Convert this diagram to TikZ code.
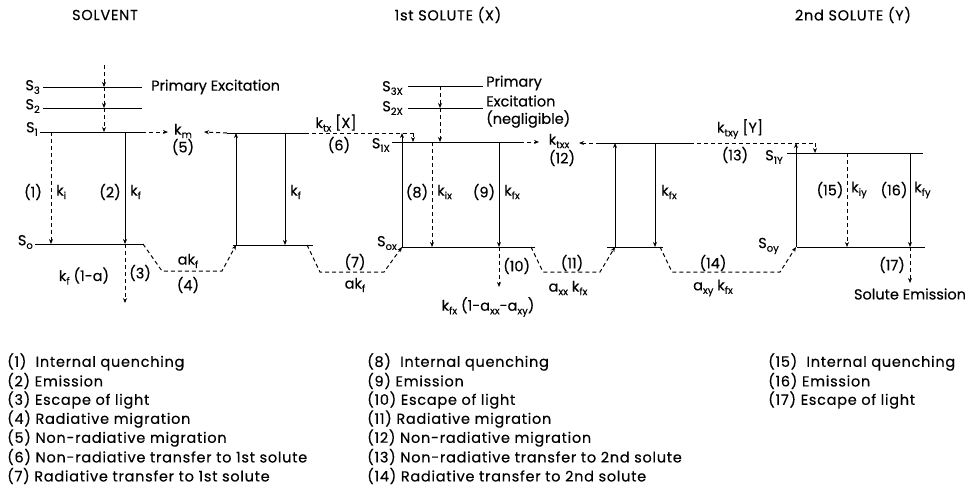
\documentclass[tikz,border=0pt]{standalone}
\usepackage{fontspec}
\setmainfont{Poppins}[UprightFeatures={FakeBold=0.35}]
\usetikzlibrary{arrows.meta}
\newcommand\lsub[1]{\raisebox{-0.45ex}{\fontsize{10}{10}\selectfont #1}}
\begin{document}
\begin{tikzpicture}[x=1pt,y=-1pt,
  lvl/.style={line width=1pt},
  sarr/.style={line width=1pt,-{Stealth[length=5pt,width=4pt]}},
  darr/.style={line width=1pt,dash pattern=on 4pt off 3pt,-{Stealth[length=5pt,width=4pt]}},
  dln/.style={line width=1pt,dash pattern=on 4pt off 3pt},
  txt/.style={font=\fontsize{14.5}{16}\selectfont,inner sep=0pt},
  hdr/.style={font=\fontsize{14.5}{16}\selectfont\addfontfeature{LetterSpace=5},inner sep=0pt},
  leg/.style={font=\fontsize{14.5}{16}\selectfont\addfontfeature{LetterSpace=5},inner sep=0pt,anchor=west}]
\useasboundingbox (0,0) rectangle (979,499);
% headers
\node[hdr] (h1) at (105,15) {SOLVENT};
\node[hdr] (h2) at (448,15) {1st SOLUTE (X)};
\node[hdr] (h3) at (853,15) {2nd SOLUTE (Y)};
% ---------- solvent 1 ----------
\coordinate (a3l) at (43,87);  \coordinate (a3r) at (142,87);
\coordinate (a2l) at (43,108); \coordinate (a2r) at (142,108);
\coordinate (a1l) at (40,132); \coordinate (a1r) at (142,132);
\coordinate (a0l) at (35,244); \coordinate (a0r) at (143,244);
\draw[lvl] (a3l)--(a3r); \draw[lvl] (a2l)--(a2r); \draw[lvl] (a1l)--(a1r); \draw[lvl] (a0l)--(a0r);
\node[txt,anchor=east] (ls3) at (40,87) {S\lsub{3}};
\node[txt,anchor=east] (ls2) at (40,106) {S\lsub{2}};
\node[txt,anchor=east] (ls1) at (38,129) {S\lsub{1}};
\node[txt,anchor=east] (ls0) at (33,242) {S\lsub{o}};
\coordinate (pe0) at (104,65); \coordinate (pe3) at (104,87); \coordinate (pe2) at (104,108); \coordinate (pe1) at (104,132);
\draw[darr] (pe0)--(pe3); \draw[darr] (pe3)--(pe2); \draw[darr] (pe2)--(pe1);
\node[txt,anchor=west] (pe) at (151,87) {Primary Excitation};
\coordinate (q1t) at (51,132); \coordinate (q1b) at (51,244);
\draw[darr] (q1t)--(q1b);
\node[txt] (n1) at (33,192) {(1)};
\node[txt,anchor=west] (k1) at (56,192) {k\lsub{i}};
\coordinate (e2t) at (125,132); \coordinate (e2b) at (125,244); \coordinate (e3b) at (125,303);
\draw[sarr] (e2t)--(e2b);
\node[txt] (n2) at (110,192) {(2)};
\node[txt,anchor=west] (k2) at (130,192) {k\lsub{f}};
\draw[darr] (e2b)--(e3b);
\node[txt,anchor=west] (n3) at (129,273) {(3)};
\node[txt] (k3) at (84,276) {k\lsub{f} (1-a)};
% non-radiative migration (5)
\coordinate (m5a) at (168,132); \coordinate (m5b) at (204,132); \coordinate (b1l) at (227,133);
\draw[darr] (a1r)--(m5a);
\node[txt] (km) at (183,131) {k\lsub{m}};
\node[txt] (n5) at (183,147) {(5)};
\draw[darr] (b1l)--(m5b);
% radiative migration (4)
\coordinate (r4a) at (162,271); \coordinate (r4b) at (222,271); \coordinate (b0l) at (236,245);
\draw[darr] (a0r)--(r4a)--(r4b)--(b0l);
\node[txt] (ak4) at (188,261) {ak\lsub{f}};
\node[txt] (n4) at (188,285) {(4)};
% ---------- solvent 2 ----------
\coordinate (b1m) at (305,133); \coordinate (b1r) at (413,133);
\coordinate (b0a) at (233,245); \coordinate (b0r) at (313,245);
\draw[lvl] (b1l)--(b1m); \draw[dln] (b1m)--(b1r);
\draw[lvl] (b0a)--(b0r);
\coordinate (bu1) at (236,245); \coordinate (bu2) at (236,133);
\draw[sarr] (bu1)--(bu2);
\coordinate (bd1) at (285,133); \coordinate (bd2) at (285,245);
\draw[sarr] (bd1)--(bd2);
\node[txt,anchor=west] (kb) at (290,192) {k\lsub{f}};
% (7)
\coordinate (r7s) at (307,245); \coordinate (r7a) at (320,272); \coordinate (r7b) at (384,272); \coordinate (x0l) at (402,247);
\draw[darr] (r7s)--(r7a)--(r7b)--(x0l);
\node[txt] (n7) at (355,262) {(7)};
\node[txt] (ak7) at (355,285) {ak\lsub{f}};
\node[txt] (ktx) at (336,123) {k\lsub{tx} [X]};
\node[txt] (n6) at (339,145) {(6)};
% ---------- solute X ----------
\coordinate (xu2) at (402,133);
\draw[sarr] (x0l)--(xu2);
\coordinate (x1b) at (413,142);
\draw[darr] (b1r)--(x1b);
\coordinate (x3l) at (408,86); \coordinate (x3r) at (483,86);
\coordinate (x2l) at (408,108); \coordinate (x2r) at (483,108);
\coordinate (x1l) at (392,142); \coordinate (x1m) at (520,142);
\coordinate (x0r) at (535,247);
\draw[lvl] (x3l)--(x3r); \draw[lvl] (x2l)--(x2r); \draw[lvl] (x1l)--(x1m); \draw[lvl] (x0l)--(x0r);
\node[txt,anchor=east] (lx3) at (403,88) {S\lsub{3X}};
\node[txt,anchor=east] (lx2) at (403,108) {S\lsub{2X}};
\node[txt,anchor=east] (lx1) at (390,145) {S\lsub{1X}};
\node[txt,anchor=east] (lx0) at (397,243) {S\lsub{ox}};
\coordinate (px3) at (440,86); \coordinate (px2) at (440,108); \coordinate (px1) at (440,142);
\draw[darr] (px3)--(px2); \draw[darr] (px2)--(px1);
\node[txt,anchor=west] (pxa) at (486,83) {Primary};
\node[txt,anchor=west] (pxb) at (486,101) {Excitation};
\node[txt,anchor=west] (pxc) at (486,119) {(negligible)};
\coordinate (q8t) at (432,142); \coordinate (q8b) at (432,247);
\draw[darr] (q8t)--(q8b);
\node[txt] (n8) at (417,192) {(8)};
\node[txt,anchor=west] (k8) at (437,192) {k\lsub{ix}};
\coordinate (e9t) at (499,142); \coordinate (e9b) at (499,247); \coordinate (e10b) at (499,287);
\draw[sarr] (e9t)--(e9b);
\node[txt] (n9) at (484,192) {(9)};
\node[txt,anchor=west] (k9) at (504,192) {k\lsub{fx}};
\draw[darr] (e9b)--(e10b);
\node[txt,anchor=west] (n10) at (503,266) {(10)};
\node[txt] (k10) at (488,307) {k\lsub{fx} (1-a\lsub{xx}-a\lsub{xy})};
% (12)
\coordinate (m12a) at (539,142); \coordinate (m12b) at (579,143); \coordinate (c1l) at (600,143);
\draw[darr] (x1m)--(m12a);
\node[txt] (ktxx) at (559,141) {k\lsub{txx}};
\node[txt] (n12) at (562,158) {(12)};
\draw[darr] (c1l)--(m12b);
% (11)
\coordinate (r11s) at (531,247); \coordinate (r11a) at (543,272); \coordinate (r11b) at (600,272); \coordinate (c0u) at (615,247);
\draw[darr] (r11s)--(r11a)--(r11b)--(c0u);
\node[txt] (n11) at (572,263) {(11)};
\node[txt] (k11) at (568,288) {a\lsub{xx} k\lsub{fx}};
% ---------- solute X (second) ----------
\coordinate (c1m) at (690,143); \coordinate (c1r) at (815,143);
\draw[lvl] (c1l)--(c1m); \draw[dln] (c1m)--(c1r);
\coordinate (c0l) at (607,247); \coordinate (c0r) at (663,247);
\draw[lvl] (c0l)--(c0r);
\coordinate (cu2) at (615,143);
\draw[sarr] (c0u)--(cu2);
\coordinate (cd1) at (655,143); \coordinate (cd2) at (655,247);
\draw[sarr] (cd1)--(cd2);
\node[txt,anchor=west] (kc) at (661,192) {k\lsub{fx}};
% (14)
\coordinate (r14s) at (660,247); \coordinate (r14a) at (672,272); \coordinate (r14b) at (780,272); \coordinate (y0u) at (796,247);
\draw[darr] (r14s)--(r14a)--(r14b)--(y0u);
\node[txt] (n14) at (713,263) {(14)};
\node[txt] (k14) at (713,288) {a\lsub{xy} k\lsub{fx}};
\node[txt] (ktxy) at (740,129) {k\lsub{txy} [Y]};
\node[txt] (n13) at (735,155) {(13)};
% ---------- solute Y ----------
\coordinate (yu2) at (796,143);
\draw[sarr] (y0u)--(yu2);
\coordinate (y1b) at (815,153);
\draw[darr] (c1r)--(y1b);
\coordinate (y1l) at (787,153); \coordinate (y1r) at (923,153);
\coordinate (y0l) at (797,247); \coordinate (y0r) at (925,247);
\draw[lvl] (y1l)--(y1r); \draw[lvl] (y0l)--(y0r);
\node[txt,anchor=east] (ly1) at (783,157) {S\lsub{1Y}};
\node[txt,anchor=east] (ly0) at (779,246) {S\lsub{oy}};
\coordinate (q15t) at (847,153); \coordinate (q15b) at (847,247);
\draw[darr] (q15t)--(q15b);
\node[txt] (n15) at (830,190) {(15)};
\node[txt,anchor=west] (k15) at (851,190) {k\lsub{iy}};
\coordinate (e16t) at (910,153); \coordinate (e16b) at (910,247); \coordinate (e17b) at (910,283);
\draw[sarr] (e16t)--(e16b);
\node[txt] (n16) at (894,190) {(16)};
\node[txt,anchor=west] (k16) at (914,190) {k\lsub{fy}};
\draw[darr] (e16b)--(e17b);
\node[txt] (n17) at (892,265) {(17)};
\node[txt] (se) at (910,294) {Solute Emission};
% ---------- legend ----------
\node[leg] (l1) at (7,362) {(1)\ \ Internal quenching};
\node[leg] (l2) at (7,381) {(2)\ Emission};
\node[leg] (l3) at (7,400) {(3)\ Escape of light};
\node[leg] (l4) at (7,419) {(4)\ Radiative migration};
\node[leg] (l5) at (7,438) {(5)\ Non-radiative migration};
\node[leg] (l6) at (7,457) {(6)\ Non-radiative transfer to 1st solute};
\node[leg] (l7) at (7,476) {(7)\ Radiative transfer to 1st solute};
\node[leg] (l8) at (367,362) {(8)\ \ Internal quenching};
\node[leg] (l9) at (367,381) {(9)\ Emission};
\node[leg] (l10) at (367,400) {(10)\ Escape of light};
\node[leg] (l11) at (367,419) {(11)\ Radiative migration};
\node[leg] (l12) at (367,438) {(12)\ Non-radiative migration};
\node[leg] (l13) at (367,457) {(13)\ Non-radiative transfer to 2nd solute};
\node[leg] (l14) at (367,476) {(14)\ Radiative transfer to 2nd solute};
\node[leg] (l15) at (768,362) {(15)\ \ Internal quenching};
\node[leg] (l16) at (768,381) {(16)\ Emission};
\node[leg] (l17) at (768,400) {(17)\ Escape of light};
\end{tikzpicture}
\end{document}
